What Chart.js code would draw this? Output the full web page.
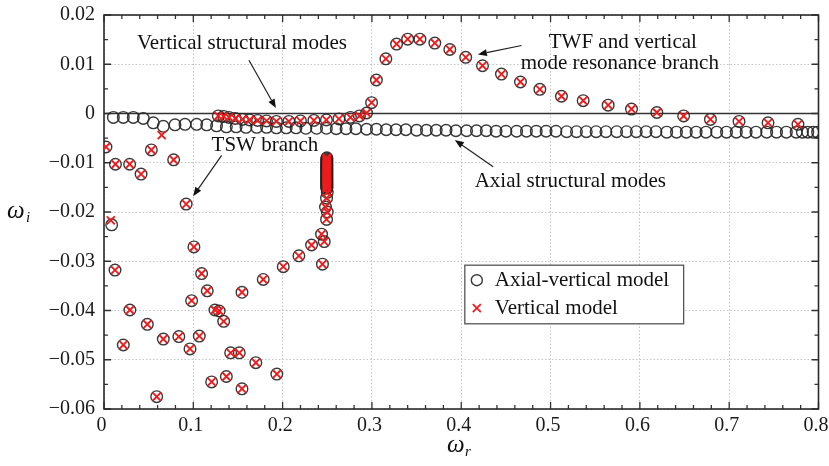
<!DOCTYPE html>
<html><head><meta charset="utf-8">
<script src="https://cdn.jsdelivr.net/npm/chart.js@4.4.1/dist/chart.umd.min.js"></script>
<style>html,body{margin:0;padding:0;background:#fff;}</style>
</head><body>
<canvas id="c" width="829" height="466"></canvas>
<script>
// ---------------- DATA ----------------
const seriesNames = ['Axial-vertical model', 'Vertical model'];
const xTickValues = [0, 0.1, 0.2, 0.3, 0.4, 0.5, 0.6, 0.7, 0.8];
const yTickValues = [0.02, 0.01, 0, -0.01, -0.02, -0.03, -0.04, -0.05, -0.06];

// Axial structural modes (axial-vertical model only)
const axialRowR = [0.0105,0.0216,0.0328,0.0440,0.0552,0.0664,0.0795,0.0907,0.1037,0.1150,0.1260,
  0.137,0.148,0.159,0.171,0.182,0.193,0.204,0.215,0.226,0.238,0.249,
  0.260,0.271,0.282,0.294,0.305,0.316,0.327,0.338,0.350,
  0.361,0.372,0.383,0.394,0.406,0.417,0.428,0.439,0.450,
  0.462,0.473,0.484,0.495,0.506,0.518,0.529,0.540,0.551,0.562,
  0.574,0.585,0.596,0.607,0.618,0.630,0.641,0.652,0.663,0.674,
  0.686,0.697,0.708,0.719,0.730,0.742,0.753,0.764,0.775,
  0.782,0.788,0.794,0.799];
const axialRowI = [-0.0008,-0.0008,-0.0008,-0.0010,-0.0019,-0.0026,-0.0023,-0.0022,-0.0022,-0.0023,-0.0025,
  -0.0027,-0.0027,-0.0028,-0.0028,-0.0028,-0.0029,-0.0029,-0.0029,-0.0030,-0.0030,-0.0030,
  -0.0031,-0.0031,-0.0031,-0.0032,-0.0032,-0.0033,-0.0033,-0.0033,-0.0034,
  -0.0034,-0.0034,-0.0034,-0.0035,-0.0035,-0.0035,-0.0035,-0.0036,-0.0036,
  -0.0036,-0.0036,-0.0036,-0.0036,-0.0036,-0.0037,-0.0037,-0.0037,-0.0037,-0.0037,
  -0.0037,-0.0037,-0.0037,-0.0037,-0.0037,-0.0038,-0.0038,-0.0038,-0.0038,-0.0038,
  -0.0038,-0.0038,-0.0038,-0.0038,-0.0038,-0.0038,-0.0038,-0.0038,-0.0038,
  -0.0038,-0.0038,-0.0038,-0.0038];

// Vertical structural modes + TWF / vertical mode resonance branch (both models)
const resonanceR = [0.128,0.134,0.140,0.147,0.155,0.163,0.172,0.182,0.193,0.207,0.220,0.235,0.249,0.263,0.276,0.286,0.294,
  0.2996,0.305,0.3156,0.3276,0.340,0.3537,0.3704,0.3872,0.405,0.4238,0.445,0.4663,0.488,0.5122,0.5365,
  0.5645,0.5906,0.619,0.649,0.679,0.711,0.7435,0.777];
const resonanceI = [-0.0005,-0.0006,-0.0008,-0.0010,-0.0012,-0.0013,-0.0014,-0.0015,-0.0016,-0.0016,-0.0015,-0.0014,-0.0013,-0.0011,-0.0008,-0.0005,0.0001,
  0.0022,0.0068,0.0111,0.0141,0.0151,0.0151,0.0143,0.0130,0.0114,0.0097,0.0080,0.0064,0.0049,0.0035,0.0026,
  0.0017,0.0009,0.0002,-0.0005,-0.0012,-0.0016,-0.0019,-0.0022];

// TSW branch and other damped modes (both models)
const tswR = [0.0022,0.0128,0.0287,0.0415,0.0530,0.0780,0.0920,0.1007,0.0123,0.1093,0.1156,0.0981,0.1242,0.1290,0.1340,
  0.0290,0.0485,0.0664,0.0838,0.0963,0.1067,0.0216,0.1205,0.0590,0.1370,0.1418,0.1515,0.1545,0.1700,0.1935,
  0.1545,0.1783,0.2007,0.2182,0.2324,0.2436,0.2466,0.2446,0.2492,0.2500,0.2480,0.2492,0.2500];
const tswI = [-0.0068,-0.0103,-0.0103,-0.0123,-0.0074,-0.0094,-0.0184,-0.0271,-0.0318,-0.0325,-0.0360,-0.0380,-0.0399,-0.0401,-0.0422,
  -0.0399,-0.0428,-0.0458,-0.0453,-0.0478,-0.0452,-0.0470,-0.0545,-0.0575,-0.0534,-0.0486,-0.0486,-0.0559,-0.0506,-0.0529,
  -0.0363,-0.0337,-0.0311,-0.0289,-0.0267,-0.0245,-0.0260,-0.0306,-0.0215,-0.0200,-0.0190,-0.0172,-0.0160];

// Dense cluster at omega_r ~ 0.25 (both models)
const clusterR = 0.2495;
const clusterI = [-0.0090,-0.0092,-0.0094,-0.0096,-0.0098,-0.0100,-0.0102,-0.0104,-0.0106,-0.0108,-0.0110,-0.0112,
  -0.0114,-0.0116,-0.0118,-0.0120,-0.0122,-0.0124,-0.0126,-0.0128,-0.0130,-0.0132,-0.0134,-0.0136,-0.0138,
  -0.0140,-0.0142,-0.0144,-0.0146,-0.0148,-0.0150,-0.0152];

// Points that differ between the two models
const axialOnlyR = [0.0086];
const axialOnlyI = [-0.0226];
const verticalOnlyR = [0.0076, 0.0646];
const verticalOnlyI = [-0.0217, -0.0044];

// ---------------- BUILD ----------------
const pts = (R, I) => R.map((r, k) => ({x: r, y: I[k]}));
const clusterPts = clusterI.map(v => ({x: clusterR, y: v}));
const axialVerticalData = [].concat(pts(axialRowR, axialRowI), pts(resonanceR, resonanceI), pts(tswR, tswI), clusterPts, pts(axialOnlyR, axialOnlyI));
const verticalData = [].concat(pts(resonanceR, resonanceI), pts(tswR, tswI), clusterPts, pts(verticalOnlyR, verticalOnlyI));

const SERIF = "'Liberation Serif', 'Times New Roman', serif";
const CIRCLE_COLOR = 'rgba(35,35,35,0.9)';
const CROSS_COLOR = '#ee1c1c';
Chart.defaults.font.family = SERIF;

const notes = [
  {text: 'Vertical structural modes', r: 0.1545, i: 0.0142},
  {text: 'TSW branch', r: 0.1802, i: -0.0064},
  {text: 'TWF and vertical', r: 0.5809, i: 0.0145},
  {text: 'mode resonance branch', r: 0.5775, i: 0.0101},
  {text: 'Axial structural modes', r: 0.5221, i: -0.0139}
];
const arrows = [
  {r0: 0.1623, i0: 0.0108, r1: 0.1925, i1: 0.0011},
  {r0: 0.1317, i0: -0.0085, r1: 0.0998, i1: -0.0168},
  {r0: 0.4675, i0: 0.0138, r1: 0.4186, i1: 0.0120},
  {r0: 0.4357, i0: -0.0108, r1: 0.3928, i1: -0.0054}
];
const legendBox = {r0: 0.4040, r1: 0.6490, i0: -0.0308, i1: -0.0427};

function drawArrow(ctx, x0, y0, x1, y1) {
  const a = Math.atan2(y1 - y0, x1 - x0), L = 9, W = 3.5;
  const bx = x1 - L * Math.cos(a), by = y1 - L * Math.sin(a);
  ctx.beginPath(); ctx.moveTo(x0, y0); ctx.lineTo(bx, by); ctx.stroke();
  ctx.beginPath(); ctx.moveTo(x1, y1);
  ctx.lineTo(bx + W * Math.sin(a), by - W * Math.cos(a));
  ctx.lineTo(bx - W * Math.sin(a), by + W * Math.cos(a));
  ctx.closePath(); ctx.fill();
}

const deco = {
  id: 'deco',
  beforeDatasetsDraw(chart) {
    const {ctx, chartArea: ca, scales: {x, y}} = chart;
    ctx.save();
    const y0 = y.getPixelForValue(0);
    ctx.strokeStyle = '#333'; ctx.lineWidth = 1.4;
    ctx.beginPath(); ctx.moveTo(ca.left, y0); ctx.lineTo(ca.right, y0); ctx.stroke();
    ctx.strokeStyle = '#333'; ctx.lineWidth = 1.3;
    for (let k = 0; k <= 40; k++) {
      const v = k * 0.02, px = x.getPixelForValue(v), len = (k % 5 === 0) ? 7 : 4;
      ctx.beginPath(); ctx.moveTo(px, ca.bottom); ctx.lineTo(px, ca.bottom - len);
      ctx.moveTo(px, ca.top); ctx.lineTo(px, ca.top + len); ctx.stroke();
    }
    for (let k = 0; k <= 16; k++) {
      const v = -0.06 + k * 0.005, py = y.getPixelForValue(v), len = (k % 2 === 0) ? 7 : 4;
      ctx.beginPath(); ctx.moveTo(ca.left, py); ctx.lineTo(ca.left + len, py);
      ctx.moveTo(ca.right, py); ctx.lineTo(ca.right - len, py); ctx.stroke();
    }
    ctx.lineWidth = 1.6; ctx.strokeStyle = '#2a2a2a';
    ctx.strokeRect(ca.left, ca.top, ca.right - ca.left, ca.bottom - ca.top);
    ctx.restore();
  },
  afterDraw(chart) {
    const {ctx, scales: {x, y}} = chart;
    ctx.save();
    ctx.fillStyle = '#111'; ctx.strokeStyle = '#222'; ctx.lineWidth = 1.2;
    ctx.font = '21px ' + SERIF; ctx.textAlign = 'center'; ctx.textBaseline = 'middle';
    notes.forEach(n => ctx.fillText(n.text, x.getPixelForValue(n.r), y.getPixelForValue(n.i)));
    arrows.forEach(a => drawArrow(ctx, x.getPixelForValue(a.r0), y.getPixelForValue(a.i0), x.getPixelForValue(a.r1), y.getPixelForValue(a.i1)));
    const lx0 = x.getPixelForValue(legendBox.r0), lx1 = x.getPixelForValue(legendBox.r1);
    const ly0 = y.getPixelForValue(legendBox.i0), ly1 = y.getPixelForValue(legendBox.i1);
    ctx.fillStyle = '#fff'; ctx.fillRect(lx0, ly0, lx1 - lx0, ly1 - ly0);
    ctx.strokeStyle = '#555'; ctx.lineWidth = 1.3; ctx.strokeRect(lx0, ly0, lx1 - lx0, ly1 - ly0);
    const mx = lx0 + 12, r1y = ly0 + 15, r2y = ly0 + 43;
    ctx.strokeStyle = CIRCLE_COLOR; ctx.lineWidth = 1.4;
    ctx.beginPath(); ctx.arc(mx, r1y, 5.5, 0, Math.PI * 2); ctx.stroke();
    ctx.strokeStyle = CROSS_COLOR; ctx.lineWidth = 1.8;
    ctx.beginPath(); ctx.moveTo(mx - 4, r2y - 4); ctx.lineTo(mx + 4, r2y + 4); ctx.moveTo(mx + 4, r2y - 4); ctx.lineTo(mx - 4, r2y + 4); ctx.stroke();
    ctx.fillStyle = '#111'; ctx.textAlign = 'left'; ctx.font = '21px ' + SERIF;
    ctx.fillText(seriesNames[0], lx0 + 30, r1y);
    ctx.fillText(seriesNames[1], lx0 + 30, r2y);
    ctx.font = 'italic 25px ' + SERIF; ctx.textAlign = 'left';
    ctx.fillText('ω', 7, 211);
    ctx.font = 'italic 15px ' + SERIF; ctx.fillText('i', 26, 218);
    ctx.font = 'italic 25px ' + SERIF;
    ctx.fillText('ω', 447, 445);
    ctx.font = 'italic 15px ' + SERIF; ctx.fillText('r', 465, 452);
    ctx.restore();
  }
};

const fmt = v => {
  const r = Math.round(v * 100) / 100;
  if (r === 0) return '0';
  const s = Math.abs(r).toFixed(2);
  return (r < 0 ? '\u2212' : '') + s;
};
const fmtX = v => {
  const r = Math.round(v * 10) / 10;
  return r === 0 ? '0' : r.toFixed(1);
};

new Chart(document.getElementById('c'), {
  type: 'scatter',
  data: {
    datasets: [
      {label: seriesNames[0], data: axialVerticalData, pointStyle: 'circle', pointRadius: 5.8, pointBorderWidth: 1.4,
       pointBorderColor: CIRCLE_COLOR, pointBackgroundColor: 'rgba(0,0,0,0)', order: 1},
      {label: seriesNames[1], data: verticalData, pointStyle: 'crossRot', pointRadius: 5.7, pointBorderWidth: 1.9,
       pointBorderColor: CROSS_COLOR, pointBackgroundColor: CROSS_COLOR, order: 0}
    ]
  },
  options: {
    responsive: false, animation: false, devicePixelRatio: 1,
    layout: {padding: {left: 0, top: 15, right: 10.5, bottom: 0}},
    plugins: {legend: {display: false}, tooltip: {enabled: false}},
    elements: {point: {hoverRadius: 5.8}},
    scales: {
      x: {
        type: 'linear', min: 0, max: 0.8,
        afterBuildTicks: s => { s.ticks = xTickValues.map(v => ({value: v})); },
        ticks: {callback: fmtX, padding: 5, labelOffset: -2.5, color: '#1a1a1a', font: {family: SERIF, size: 20}, maxRotation: 0, autoSkip: false},
        grid: {color: '#c4c4c4', lineWidth: 1, drawTicks: false},
        border: {display: false, dash: [1.5, 2]},
        afterFit: s => { s.height = 57; s.paddingLeft = 0; s.paddingRight = 0; }
      },
      y: {
        type: 'linear', min: -0.06, max: 0.02,
        afterBuildTicks: s => { s.ticks = yTickValues.slice().reverse().map(v => ({value: v})); },
        ticks: {callback: fmt, padding: 9, color: '#1a1a1a', font: {family: SERIF, size: 20}, autoSkip: false},
        grid: {color: '#c4c4c4', lineWidth: 1, drawTicks: false},
        border: {display: false, dash: [1.5, 2]},
        afterFit: s => { s.width = 104; s.paddingTop = 0; s.paddingBottom = 0; }
      }
    }
  },
  plugins: [deco]
});
</script>
</body></html>
